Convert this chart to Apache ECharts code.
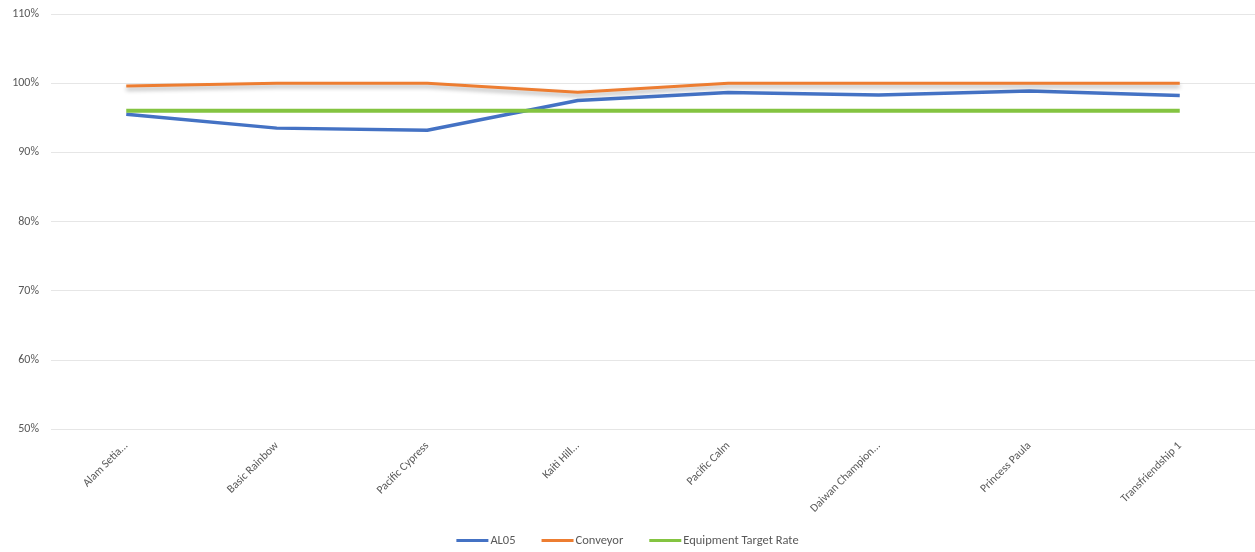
<!DOCTYPE html>
<html><head><meta charset="utf-8">
<script src="https://cdn.jsdelivr.net/npm/echarts@6/dist/echarts.min.js"></script>
<style>html,body{margin:0;padding:0;background:#fff}#c{width:1255px;height:552px}</style>
</head><body><div id="c"></div>
<script>
const categories = ['Alam Setia...', 'Basic Rainbow', 'Pacific Cypress', 'Kaiti Hill...', 'Pacific Calm', 'Daiwan Champion...', 'Princess Paula', 'Transfriendship 1'];
const al05 = [95.5, 93.5, 93.2, 97.5, 98.65, 98.3, 98.85, 98.2];
const conveyor = [99.6, 100, 100, 98.7, 100, 100, 100, 100];
const targetRate = [96, 96, 96, 96, 96, 96, 96, 96];
const yTicks = { min: 50, max: 110, interval: 10 };

const chart = echarts.init(document.getElementById('c'));
const font = 'Calibri, "Liberation Sans", "Open Sans", sans-serif';
chart.setOption({
  animation: false,
  textStyle: { fontFamily: font },
  grid: { left: 51, right: 0, top: 14, bottom: 123 },
  legend: {
    bottom: 0, left: 'center', itemWidth: 32, itemHeight: 3, itemGap: 26,
    icon: 'rect',
    textStyle: { color: '#595959', fontSize: 12.5, fontFamily: font, padding: [0, 0, 0, -3] },
    data: ['AL05', 'Conveyor', 'Equipment Target Rate']
  },
  xAxis: {
    type: 'category', data: categories, boundaryGap: true,
    axisLine: { show: false }, axisTick: { show: false },
    axisLabel: { rotate: 45, color: '#595959', fontSize: 11.5, margin: 15, interval: 0 }
  },
  yAxis: {
    type: 'value', min: yTicks.min, max: yTicks.max, interval: yTicks.interval,
    axisLabel: { formatter: v => v + '%', color: '#595959', fontSize: 12, margin: 12 },
    splitLine: { lineStyle: { color: '#e6e6e6' } },
    axisLine: { show: false }, axisTick: { show: false }
  },
  series: [
    { name: 'AL05', type: 'line', data: al05, symbol: 'none', itemStyle: { color: '#4472C4' },
      lineStyle: { width: 3.5, color: '#4472C4' } },
    { name: 'Conveyor', type: 'line', data: conveyor, symbol: 'none', itemStyle: { color: '#ED7D31' },
      lineStyle: { width: 3, color: '#ED7D31', shadowColor: 'rgba(0,0,0,0.3)', shadowBlur: 4, shadowOffsetY: 3 } },
    { name: 'Equipment Target Rate', type: 'line', data: targetRate, symbol: 'none', itemStyle: { color: '#84C441' },
      lineStyle: { width: 4, color: '#84C441' } }
  ]
});
</script></body></html>
